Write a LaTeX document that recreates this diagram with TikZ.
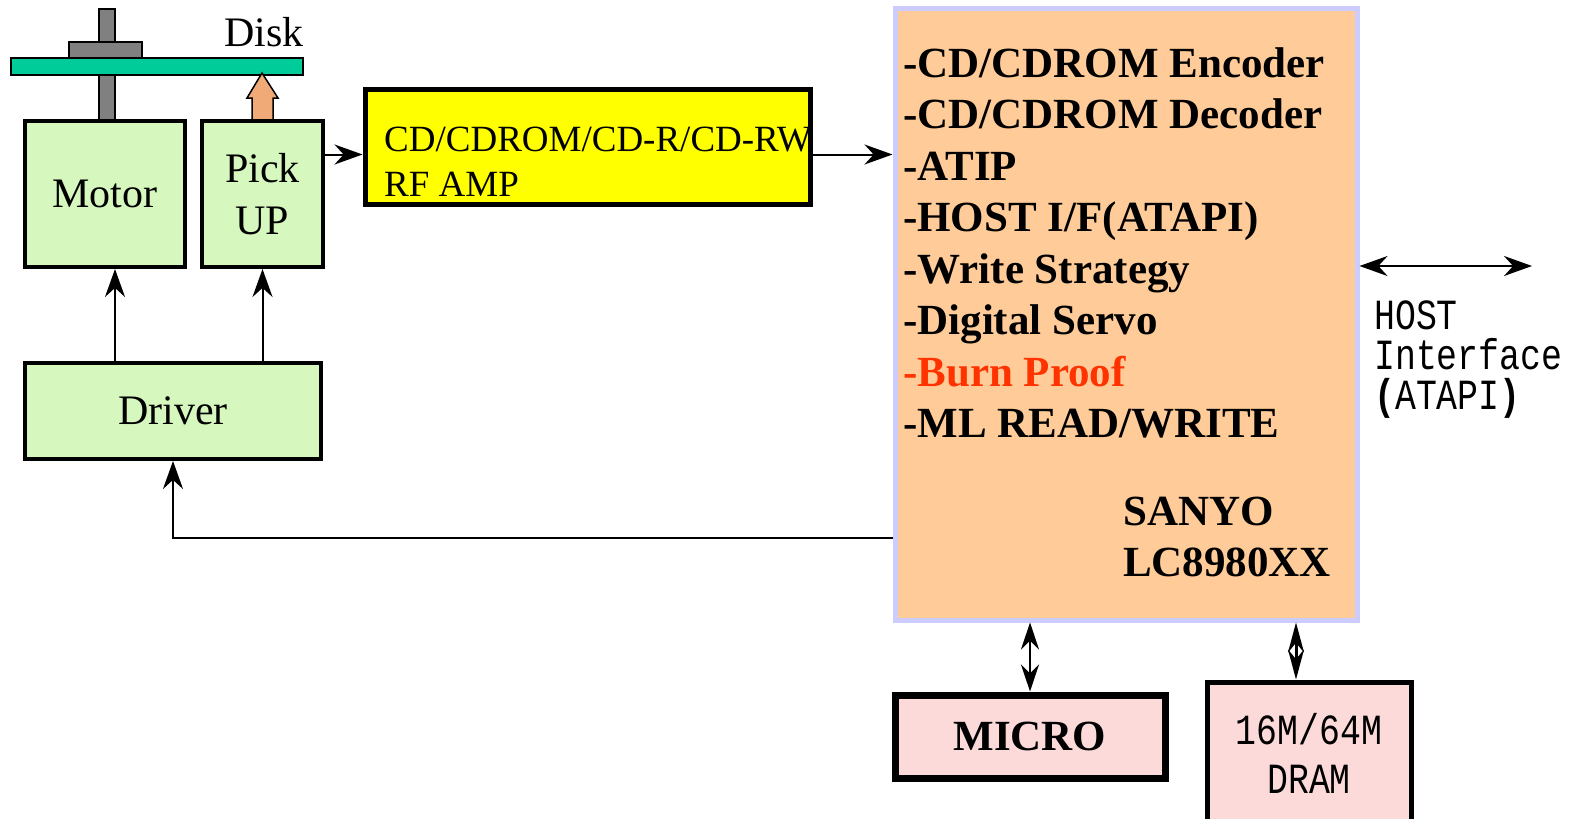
\documentclass[tikz,border=0pt]{standalone}
\usepackage{fontspec}
\setmainfont{Liberation Serif}
\newfontfamily\hostfont[FakeStretch=0.81]{Liberation Mono}
\usetikzlibrary{arrows.meta,positioning}
\definecolor{boxgreen}{RGB}{214,248,190}
\definecolor{diskgreen}{RGB}{0,204,153}
\definecolor{spindle}{RGB}{128,128,128}
\definecolor{pickorange}{RGB}{240,170,120}
\definecolor{rfyellow}{RGB}{255,255,0}
\definecolor{chippeach}{RGB}{255,204,153}
\definecolor{chipedge}{RGB}{204,204,255}
\definecolor{mempink}{RGB}{252,218,218}
\definecolor{burnred}{RGB}{255,51,0}
\tikzset{
  >={Stealth[length=28pt,width=20pt]},
  blk/.style={draw,line width=4pt,fill=boxgreen,inner sep=0pt,align=center},
  conn/.style={line width=2pt,->},
  biconn/.style={line width=2pt,<->},
  feature/.style={anchor=base west,inner sep=0pt,font=\fontsize{43}{50}\selectfont\bfseries},
  hosttxt/.style={anchor=base west,inner sep=0pt,text height=26pt,text depth=3pt,
                  font=\fontsize{43}{49}\selectfont\hostfont}
}
\begin{document}
\begin{tikzpicture}[x=1pt,y=-1pt, every node/.style={font=\fontsize{42}{52}\selectfont}]
  \useasboundingbox (0,0) rectangle (1580,819);

  %--- Disk, spindle and pick-up beam ------------------------------------------
  \draw[fill=spindle,line width=1.5pt] (99,9) rectangle (115,121);
  \draw[fill=spindle,line width=1.5pt] (69,42) rectangle (142,58);
  \draw[fill=diskgreen,line width=1.5pt] (11,58) rectangle (303,75);
  \node (disklabel) at (264,32) {Disk};
  \draw[fill=pickorange,line width=1.5pt]
    (252,121) -- (252,98) -- (247,98) -- (262,73) -- (278,98) -- (273,98) -- (273,121);

  %--- Mechanism blocks --------------------------------------------------------
  \node[blk,minimum width=160pt,minimum height=146pt] (motor)  at (105,194) {Motor};
  \node[blk,minimum width=121pt,minimum height=146pt] (pickup) at (262.5,194) {Pick\\UP};
  \node[blk,minimum width=296pt,minimum height=96pt]  (driver) at (173,411) {Driver};

  %--- RF amplifier ------------------------------------------------------------
  \node[draw,line width=5pt,fill=rfyellow,minimum width=445pt,minimum height=115pt]
       (rfamp) at (587.5,146.5) {};
  \node[anchor=base west,inner sep=0pt,font=\fontsize{37}{45}\selectfont]
       (rftop) at (384,151) {CD/CDROM/CD-R/CD-RW};
  \node[anchor=base west,inner sep=0pt,font=\fontsize{37}{45}\selectfont]
       (rfbot) at (384,196.5) {RF AMP};

  %--- Controller chip ---------------------------------------------------------
  \node[draw=chipedge,line width=5pt,fill=chippeach,minimum width=462pt,minimum height=612pt]
       (sanyo) at (1126,314) {};
  \node[feature] (enc)   at (903,77)    {-CD/CDROM Encoder};
  \node[feature] (dec)   at (903,128.5) {-CD/CDROM Decoder};
  \node[feature] (atip)  at (903,180)   {-ATIP};
  \node[feature] (hif)   at (903,231)   {-HOST I/F(ATAPI)};
  \node[feature] (wstr)  at (903,283)   {-Write Strategy};
  \node[feature] (servo) at (903,334)   {-Digital Servo};
  \node[feature,text=burnred] (burn) at (903,386) {-Burn Proof};
  \node[feature] (mlrw)  at (903,437)   {-ML READ/WRITE};
  \node[feature] (maker) at (1123,525)  {SANYO};
  \node[feature] (part)  at (1123,576)  {LC8980XX};

  %--- Host side ---------------------------------------------------------------
  \coordinate (hostend) at (1532,266);
  \node[hosttxt] (host1) at (1374,329) {HOST};
  \node[hosttxt] (host2) at (1374,369) {Interface};
  \node[hosttxt] (host3) at (1374,409) {\textbf{(}ATAPI\textbf{)}};

  %--- Memory and micro --------------------------------------------------------
  \node[draw,line width=7pt,fill=mempink,minimum width=270pt,minimum height=83pt,
        font=\fontsize{43}{50}\selectfont\bfseries] (micro) at (1030,736.5) {MICRO};
  \node[draw,line width=5pt,fill=mempink,minimum width=204pt,minimum height=143pt,
        align=center,font=\fontsize{43}{49}\selectfont\hostfont] (dram) at (1309,753.5) {16M/64M\\DRAM};

  %--- Connectors --------------------------------------------------------------
  \draw[conn] ([yshift=-8pt]rfamp.west -| pickup.east) -- ([yshift=-8pt]rfamp.west);
  \draw[conn] ([yshift=-8pt]rfamp.east) -- ([yshift=-8pt]rfamp.east -| sanyo.west);
  \draw[conn] ([xshift=10pt]motor.south |- driver.north) -- ([xshift=10pt]motor.south);
  \draw[conn] (pickup.south |- driver.north) -- (pickup.south);
  \draw[conn] ([yshift=-224pt]sanyo.west) -| (driver.south);
  \draw[biconn] (sanyo.east |- hostend) -- (hostend);
  \draw[line width=2pt,{Stealth[length=27pt,width=18pt]}-{Stealth[length=27pt,width=18pt]}]
       (sanyo.south -| micro.north) -- (micro.north);
  \draw[line width=3pt,{Stealth[length=30pt,width=16pt]}-{Stealth[length=30pt,width=16pt]}]
       ([xshift=-13pt]dram.north |- sanyo.south) -- ([xshift=-13pt]dram.north);
\end{tikzpicture}
\end{document}
